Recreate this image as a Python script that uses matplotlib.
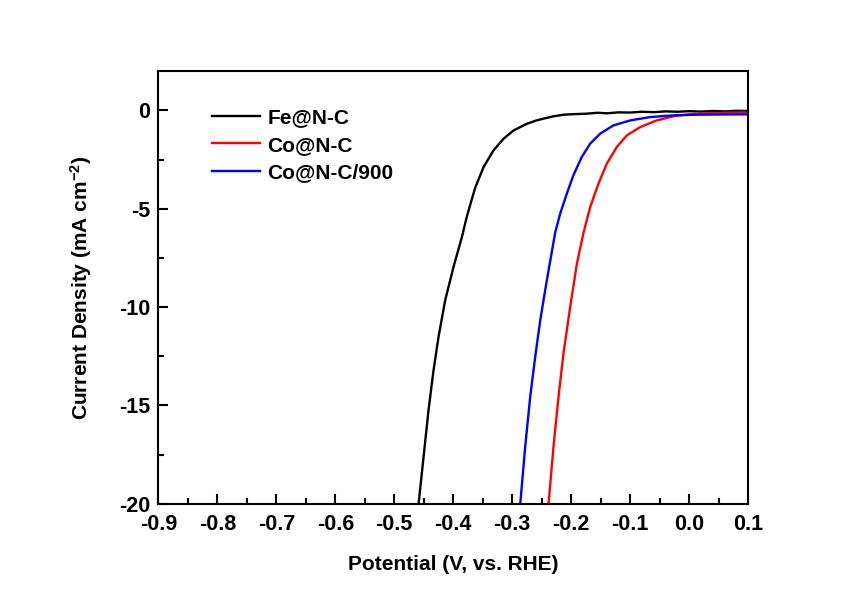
import numpy as np
import matplotlib
matplotlib.use('Agg')
import matplotlib.pyplot as plt

plt.rcParams['font.family'] = ['Liberation Sans', 'DejaVu Sans']
plt.rcParams['font.weight'] = 'bold'
plt.rcParams['mathtext.fontset'] = 'custom'
plt.rcParams['mathtext.rm'] = 'Liberation Sans:bold'
plt.rcParams['mathtext.bf'] = 'Liberation Sans:bold'
plt.rcParams['mathtext.default'] = 'bf'

### data (potential V vs RHE, current mA cm-2)

fe_E = [-0.4588, -0.4503, -0.4419, -0.4334, -0.4249, -0.4136, -0.3995, -0.3854,
        -0.377, -0.363, -0.3486, -0.3317, -0.3147, -0.2978, -0.2751, -0.260,
        -0.247, -0.230, -0.2131, -0.195, -0.175, -0.155, -0.140, -0.120,
        -0.100, -0.080, -0.060, -0.040, -0.020, 0.000, 0.020, 0.040, 0.060,
        0.080, 0.100]
fe_j = [-20.0, -17.6, -15.23, -13.2, -11.5, -9.64, -7.95, -6.45,
        -5.4, -3.95, -2.88, -2.03, -1.44, -1.02, -0.68, -0.52,
        -0.42, -0.30, -0.22, -0.19, -0.17, -0.12, -0.15, -0.10,
        -0.11, -0.07, -0.09, -0.05, -0.07, -0.04, -0.06, -0.03, -0.05,
        -0.02, -0.03]

co_E = [-0.2385, -0.2300, -0.2215, -0.2131, -0.2017, -0.1903, -0.1790, -0.1678,
        -0.1537, -0.1397, -0.1227, -0.1056, -0.0831, -0.0551, -0.0266, 0.000,
        0.030, 0.060, 0.100]
co_j = [-20.0, -17.09, -14.55, -12.35, -9.98, -7.78, -6.2, -4.91,
        -3.72, -2.71, -1.86, -1.27, -0.85, -0.51, -0.30, -0.20,
        -0.15, -0.12, -0.10]

co900_E = [-0.2864, -0.2780, -0.2695, -0.2610, -0.2525, -0.2413, -0.2271, -0.2186,
           -0.2074, -0.1963, -0.1822, -0.1678, -0.1508, -0.1283, -0.1000, -0.0660,
           -0.0266, 0.010, 0.050, 0.100]
co900_j = [-20.0, -17.09, -14.55, -12.52, -10.66, -8.63, -6.2, -5.24,
           -4.23, -3.30, -2.37, -1.69, -1.18, -0.76, -0.51, -0.34,
           -0.25, -0.22, -0.21, -0.20]

labels = ['Fe@N-C', 'Co@N-C', 'Co@N-C/900']
colors = ['black', 'red', 'blue']

fig = plt.figure(figsize=(8.56, 5.97), dpi=100)
ax = fig.add_axes([0.185, 0.156, 0.689, 0.725])

ax.plot(fe_E, fe_j, color=colors[0], lw=1.7, label=labels[0])
ax.plot(co_E, co_j, color=colors[1], lw=1.7, label=labels[1])
ax.plot(co900_E, co900_j, color=colors[2], lw=1.7, label=labels[2])

ax.set_xlim(-0.9, 0.1)
ax.set_ylim(-20, 2)
ax.set_xticks(np.arange(-0.9, 0.11, 0.1))
ax.set_xticklabels(['-0.9', '-0.8', '-0.7', '-0.6', '-0.5', '-0.4', '-0.3',
                    '-0.2', '-0.1', '0.0', '0.1'])
ax.set_xticks(np.arange(-0.85, 0.1, 0.1), minor=True)
ax.set_yticks([0, -5, -10, -15, -20])
ax.set_yticklabels(['0', '-5', '-10', '-15', '-20'])
ax.set_yticks([-2.5, -7.5, -12.5, -17.5], minor=True)

ax.tick_params(which='both', direction='in', top=False, right=False,
               labelsize=15.5, width=1.5)
ax.tick_params(which='major', length=7)
ax.tick_params(which='minor', length=4.5)
ax.tick_params(axis='x', pad=7.5)
ax.tick_params(axis='y', pad=6)
for s in ax.spines.values():
    s.set_linewidth(1.5)

ax.set_xlabel('Potential (V, vs. RHE)', fontsize=15, fontweight='bold', labelpad=14)
ax.set_ylabel('Current Density (mA cm$^{-2}$)', fontsize=15, fontweight='bold', labelpad=18)

ax.legend(loc='upper left', bbox_to_anchor=(0.0915, 0.915), frameon=False,
          fontsize=15, handlelength=2.3, handletextpad=0.35, labelspacing=0.42,
          borderpad=0, borderaxespad=0)

plt.savefig('out.png', dpi=100)
